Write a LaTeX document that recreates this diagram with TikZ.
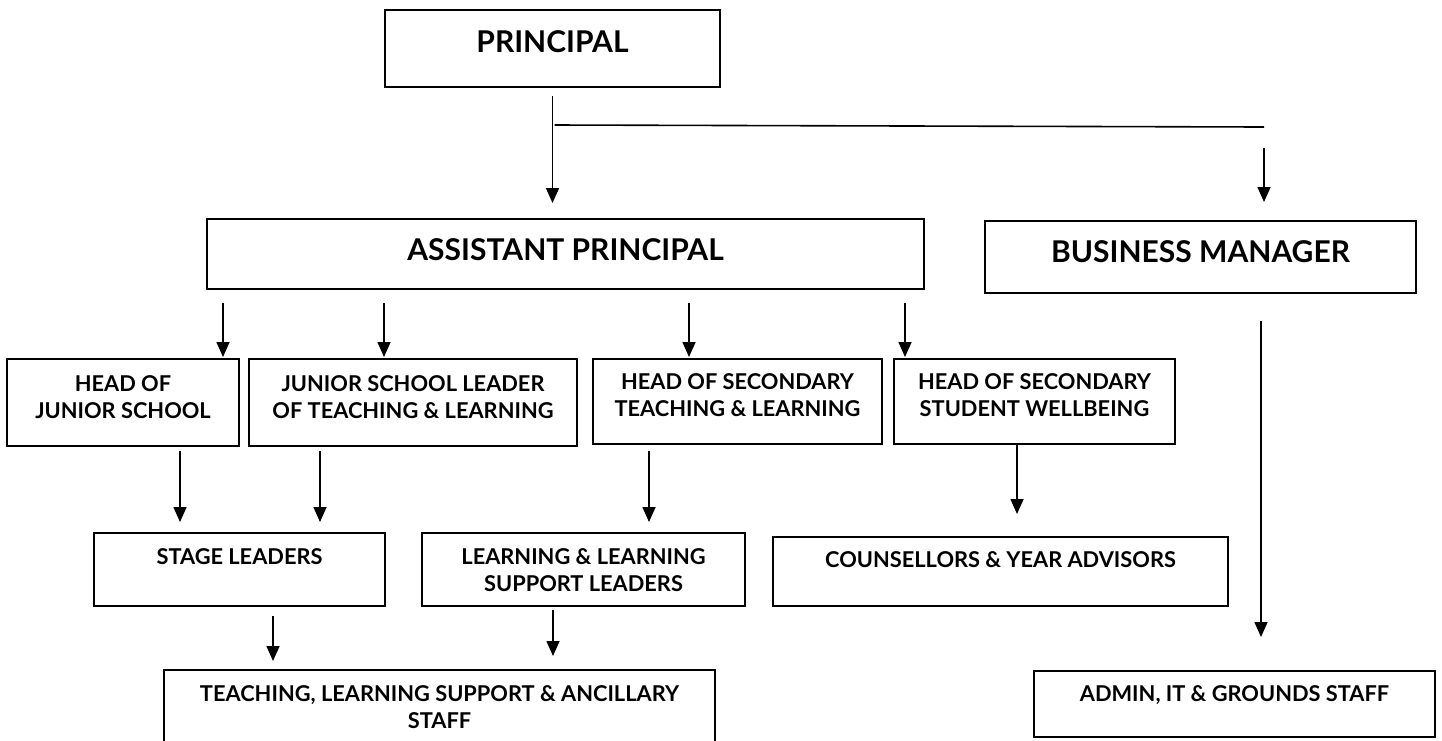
\documentclass[tikz,border=0pt]{standalone}
\usepackage{fontspec}
\setmainfont{Lato}
\usetikzlibrary{arrows.meta}
\newcommand\orgtext[4]{\parbox[c][#2][t]{#1}{\centering\vspace*{#3}#4\par}}
\tikzset{
  orgbox/.style={draw=black, line width=2pt, inner sep=0pt, outer sep=0pt, anchor=north west, font=\bfseries},
  bigtxt/.style={font=\bfseries\fontsize{30}{36}\selectfont},
  smalltxt/.style={font=\bfseries\fontsize{21.8}{27}\selectfont},
  arr/.style={line width=1.6pt, -{Triangle[width=13pt,length=15pt]}},
  plain/.style={line width=1.6pt}
}
\begin{document}
\begin{tikzpicture}[x=1pt,y=-1pt]
\useasboundingbox (0,0) rectangle (1442,740);
\clip (0,0) rectangle (1442,740);
% level 0
\node[orgbox,bigtxt] (P) at (385,10) {\orgtext{335pt}{77pt}{21pt}{PRINCIPAL}};
% level 1
\node[orgbox,bigtxt] (AP) at (207,219) {\orgtext{717pt}{70pt}{20pt}{ASSISTANT PRINCIPAL}};
\node[orgbox,bigtxt] (BM) at (985,221) {\orgtext{431pt}{72pt}{20pt}{BUSINESS MANAGER}};
% level 2
\node[orgbox,smalltxt] (HJS) at (7,359) {\orgtext{232pt}{87pt}{17pt}{HEAD OF\\JUNIOR SCHOOL}};
\node[orgbox,smalltxt] (JSL) at (249,359) {\orgtext{328pt}{87pt}{17pt}{JUNIOR SCHOOL LEADER\\OF TEACHING \& LEARNING}};
\node[orgbox,smalltxt] (HST) at (593,359) {\orgtext{289pt}{85pt}{15pt}{HEAD OF SECONDARY\\TEACHING \& LEARNING}};
\node[orgbox,smalltxt] (HSW) at (894,359) {\orgtext{281pt}{85pt}{15pt}{HEAD OF SECONDARY\\STUDENT WELLBEING}};
% level 3
\node[orgbox,smalltxt] (SL) at (94,533) {\orgtext{291pt}{73pt}{16pt}{STAGE LEADERS}};
\node[orgbox,smalltxt] (LLS) at (422,533) {\orgtext{323pt}{73pt}{16pt}{LEARNING \& LEARNING\\SUPPORT LEADERS}};
\node[orgbox,smalltxt] (CYA) at (773,537) {\orgtext{455pt}{69pt}{15pt}{COUNSELLORS \& YEAR ADVISORS}};
% level 4
\node[orgbox,smalltxt] (TLS) at (164,670) {\orgtext{551pt}{90pt}{16pt}{TEACHING, LEARNING SUPPORT \& ANCILLARY\\STAFF}};
\node[orgbox,smalltxt] (ADM) at (1034,671) {\orgtext{401pt}{66pt}{15pt}{ADMIN, IT \& GROUNDS STAFF}};
% connectors
\draw[arr] ([yshift=-9pt]P.south) -- ([yshift=16pt]P.south |- AP.north);
\draw[plain] ([xshift=2pt,yshift=-38pt]P.south) -- ([xshift=279pt,yshift=94pt]BM.north west);
\draw[arr] ([xshift=279pt,yshift=73pt]BM.north west) -- ([xshift=279pt,yshift=19pt]BM.north west);
\draw[arr] ([xshift=16pt,yshift=-14pt]AP.south west) -- ([xshift=216pt,yshift=2pt]HJS.north west);
\draw[arr] ([xshift=177pt,yshift=-14pt]AP.south west) -- ([xshift=135pt,yshift=2pt]JSL.north west);
\draw[arr] ([xshift=482pt,yshift=-14pt]AP.south west) -- ([xshift=96pt,yshift=2pt]HST.north west);
\draw[arr] ([xshift=698pt,yshift=-14pt]AP.south west) -- ([xshift=11pt,yshift=2pt]HSW.north west);
\draw[arr] ([xshift=173pt,yshift=-5pt]HJS.south west) -- ([xshift=86pt,yshift=11pt]SL.north west);
\draw[arr] ([xshift=71pt,yshift=-5pt]JSL.south west) -- ([xshift=226pt,yshift=11pt]SL.north west);
\draw[arr] ([xshift=56pt,yshift=-7pt]HST.south west) -- ([xshift=227pt,yshift=11pt]LLS.north west);
\draw[arr] ([xshift=123pt,yshift=-1pt]HSW.south west) -- ([xshift=244pt,yshift=23pt]CYA.north west);
\draw[arr] ([xshift=276pt,yshift=-28pt]BM.south west) -- ([xshift=227pt,yshift=34pt]ADM.north west);
\draw[arr] ([xshift=179pt,yshift=-10pt]SL.south west) -- ([xshift=109pt,yshift=9pt]TLS.north west);
\draw[arr] ([xshift=131pt,yshift=-4pt]LLS.south west) -- ([xshift=389pt,yshift=14pt]TLS.north west);
\end{tikzpicture}
\end{document}
